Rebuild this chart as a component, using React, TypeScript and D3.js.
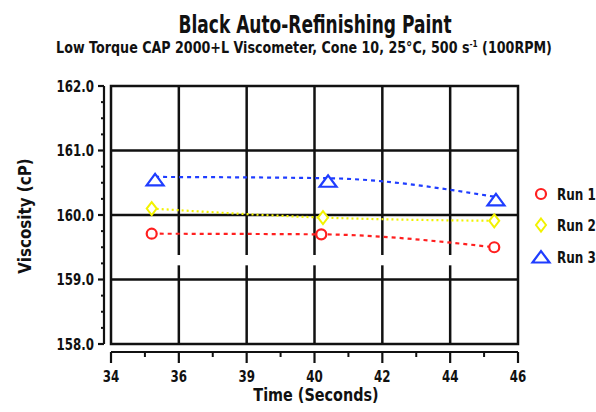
import { line, curveMonotoneX, range, scaleLinear } from "d3";

// values
const timeRun1 = [35.2, 40.2, 45.3];
const timeRun2 = [35.2, 40.25, 45.3];
const timeRun3 = [35.3, 40.4, 45.35];
const run1 = [159.71, 159.7, 159.5];
const run2 = [160.1, 159.96, 159.91];
const run3 = [160.59, 160.57, 160.28];

const xTicks = [34, 36, 38, 40, 42, 44, 46];
const xTickLabels = ["34", "36", "39", "40", "42", "44", "46"];
const yTicks = [158, 159, 160, 161, 162];
const yTickLabels = ["158.0", "159.0", "160.0", "161.0", "162.0"];
const seriesNames = ["Run 1", "Run 2", "Run 3"];

const FONT = "'DejaVu Sans', sans-serif";
const INK = "#111";
// the original face is a heavy condensed one, squeeze DejaVu to match
const SQUEEZE = 0.8;

const x = scaleLinear().domain([34, 46]).range([111, 518]);
const y = scaleLinear().domain([158, 162]).range([344, 86]);

const series = [
    { name: seriesNames[0], t: timeRun1, v: run1, color: "#ff1f1f", dash: "4,4", mark: "circle" },
    { name: seriesNames[1], t: timeRun2, v: run2, color: "#f2f200", dash: "2,3", mark: "diamond" },
    { name: seriesNames[2], t: timeRun3, v: run3, color: "#1f3dff", dash: "4,4", mark: "triangle" },
];

function Label({ x, y, size, anchor = "middle", sx = SQUEEZE, rotate = 0, children }: any) {
    return (
        <g transform={`translate(${x},${y}) rotate(${rotate}) scale(${sx},1)`}>
            <text textAnchor={anchor} fontSize={size} fill={INK}>
                {children}
            </text>
        </g>
    );
}

function Marker({ kind, cx, cy, color }: { kind: string; cx: number; cy: number; color: string }) {
    if (kind === "circle")
        return <circle cx={cx} cy={cy} r={5} fill="white" stroke={color} strokeWidth={2.2} />;
    if (kind === "diamond")
        return (
            <path
                d="M0,-6.5L5,0L0,6.5L-5,0Z"
                transform={`translate(${cx},${cy})`}
                fill="white"
                stroke={color}
                strokeWidth={2}
            />
        );
    // triangle hangs a bit below the line point, like the original
    return (
        <path
            d="M-8.5,8.5L0,-3L8.5,8.5Z"
            transform={`translate(${cx},${cy})`}
            fill="white"
            stroke={color}
            strokeWidth={2.2}
        />
    );
}

function App() {
    const path = line<[number, number]>()
        .x((d) => x(d[0]))
        .y((d) => y(d[1]))
        .curve(curveMonotoneX);

    // the vertical grid has a small break just under 159.4
    const gapTop = 159.38;
    const gapBottom = 159.22;

    const legendY = [194, 225, 254];

    return (
        <svg
            width={596}
            height={412}
            style={{ position: "absolute", left: 0, top: 0, background: "white" }}
            fontFamily={FONT}
            fontWeight="bold"
        >
            {/* titles */}
            <Label x={315} y={33} size={24} sx={0.71}>
                Black Auto-Refinishing Paint
            </Label>
            <Label x={304} y={53} size={15.5} sx={0.82}>
                Low Torque CAP 2000+L Viscometer, Cone 10, 25°C, 500 s
                <tspan fontSize={9} dy={-6}>-1</tspan>
                <tspan dy={6}> (100RPM)</tspan>
            </Label>

            {/* grid */}
            {yTicks.slice(1, -1).map((t) => (
                <line key={t} x1={x(34)} x2={x(46)} y1={y(t)} y2={y(t)} stroke={INK} strokeWidth={2.5} />
            ))}
            {xTicks.slice(1, -1).map((t) => (
                <g key={t} stroke={INK} strokeWidth={2.5}>
                    <line x1={x(t)} x2={x(t)} y1={y(162)} y2={y(gapTop)} />
                    <line x1={x(t)} x2={x(t)} y1={y(gapBottom)} y2={y(158)} />
                </g>
            ))}
            <rect
                x={x(34)}
                y={y(162)}
                width={x(46) - x(34)}
                height={y(158) - y(162)}
                fill="none"
                stroke={INK}
                strokeWidth={2.5}
            />

            {/* y axis */}
            <line x1={104} x2={104} y1={y(162)} y2={y(158)} stroke={INK} strokeWidth={2.2} />
            {yTicks.map((t) => (
                <line key={t} x1={98} x2={104} y1={y(t)} y2={y(t)} stroke={INK} strokeWidth={2.2} />
            ))}
            {range(158, 162, 0.25)
                .filter((t) => t % 1 !== 0)
                .map((t) => (
                    <line key={t} x1={101} x2={104} y1={y(t)} y2={y(t)} stroke={INK} strokeWidth={2} />
                ))}
            {yTickLabels.map((label, i) => (
                <Label key={label} x={94} y={y(yTicks[i]) + 5.5} size={16} anchor="end" sx={0.74}>
                    {label}
                </Label>
            ))}
            <Label x={31} y={216} size={18} rotate={-90} sx={0.84}>
                Viscosity (cP)
            </Label>

            {/* x axis */}
            <line x1={x(34)} x2={x(46)} y1={352} y2={352} stroke={INK} strokeWidth={2.2} />
            {xTicks.map((t) => (
                <line key={t} x1={x(t)} x2={x(t)} y1={352} y2={363} stroke={INK} strokeWidth={2.2} />
            ))}
            {range(35, 46, 2).map((t) => (
                <line key={t} x1={x(t)} x2={x(t)} y1={352} y2={357} stroke={INK} strokeWidth={2} />
            ))}
            {xTickLabels.map((label, i) => (
                <Label key={label} x={x(xTicks[i])} y={382} size={16.5} sx={0.72}>
                    {label}
                </Label>
            ))}
            <Label x={316} y={401} size={18} sx={0.8}>
                Time (Seconds)
            </Label>

            {/* series */}
            {series.map((s) => (
                <path
                    key={s.name}
                    d={path(s.t.map((t, i) => [t, s.v[i]] as [number, number])) || ""}
                    fill="none"
                    stroke={s.color}
                    strokeWidth={2.2}
                    strokeDasharray={s.dash}
                />
            ))}
            {series.map((s) =>
                s.t.map((t, i) => (
                    <Marker key={s.name + i} kind={s.mark} cx={x(t)} cy={y(s.v[i])} color={s.color} />
                ))
            )}

            {/* legend */}
            {series.map((s, i) => (
                <g key={s.name}>
                    <Marker kind={s.mark} cx={541} cy={legendY[i]} color={s.color} />
                    <Label x={557} y={legendY[i] + (i === 2 ? 9 : 6)} size={16} anchor="start" sx={0.75}>
                        {s.name}
                    </Label>
                </g>
            ))}
        </svg>
    );
}

export default App;
